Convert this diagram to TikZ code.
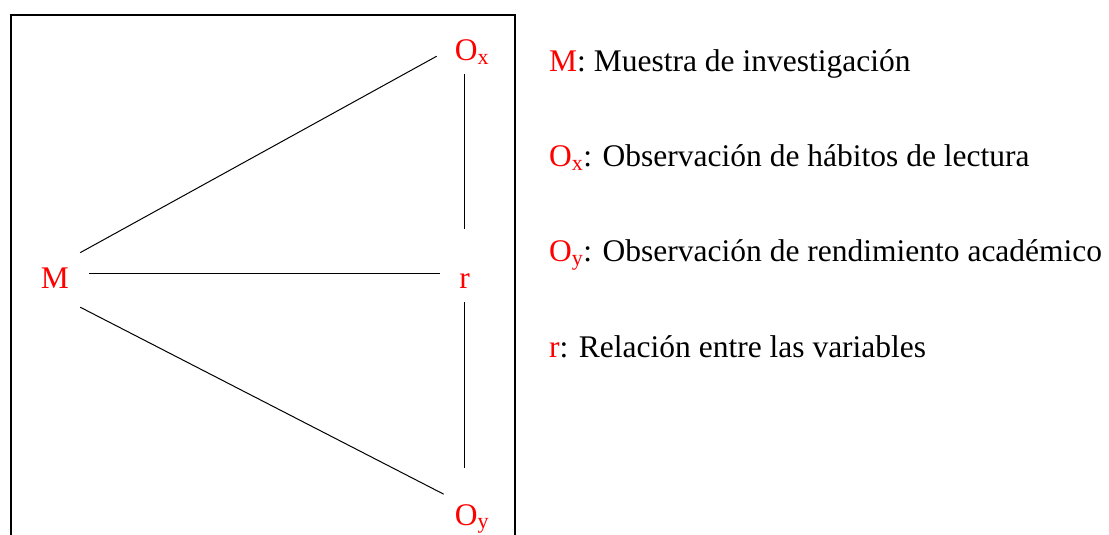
\documentclass[tikz,border=0pt]{standalone}
\usepackage{fontspec}
\setmainfont{Liberation Serif}
\usetikzlibrary{positioning}

\tikzset{
  var/.style={text=red, font=\fontsize{31.5}{38}\selectfont, text height=22pt, text depth=0pt, anchor=base},
  legend/.style={font=\fontsize{31.5}{38}\selectfont, text height=22pt, text depth=7pt, inner sep=0pt, anchor=base west},
  frame/.style={line width=2pt},
  link/.style={line width=1pt}
}

\begin{document}
\begin{tikzpicture}[x=1pt,y=1pt]
    \useasboundingbox (0,0) rectangle (1109,-535);
    \draw[frame] (11,-537) |- (515,-15) -- (515,-537);
    % variables
    \node[var, inner xsep=11pt, inner ysep=19pt] (M) at (55,-288) {M};
    \node[var, text height=45pt, inner xsep=19pt, inner ysep=14pt] (r) at (464.5,-288) {r};
    \node[var, inner xsep=18pt, inner ysep=13pt] (Ox) at (472,-61) {O\textsubscript{x}};
    \node[var, inner xsep=11pt, inner ysep=35pt] (Oy) at (472,-525) {O\textsubscript{y}};
    \draw[link] (M.44) -- (Ox.190);
    \draw[link, shorten <=9pt] (M.9) -- (M.9 -| r.west);
    \draw[link] (M.south east) -- (Oy.145);
    \draw[link] (r.north) -- (r.north |- Ox.south);
    \draw[link] (r.south) -- (r.south |- Oy.north);
    % legend
    \node[legend] (legM) at (549,-71) {\textcolor{red}{M}: Muestra de investigación};
    \node[legend, below right=66pt and 0pt of legM.south west] (legOx) {\textcolor{red}{O\textsubscript{x}}: Observación de hábitos de lectura};
    \node[legend, below right=66pt and 0pt of legOx.south west] (legOy) {\textcolor{red}{O\textsubscript{y}}: Observación de rendimiento académico};
    \node[legend, below right=66pt and 0pt of legOy.south west] (legr) {\textcolor{red}{r}: Relación entre las variables};
\end{tikzpicture}
\end{document}
